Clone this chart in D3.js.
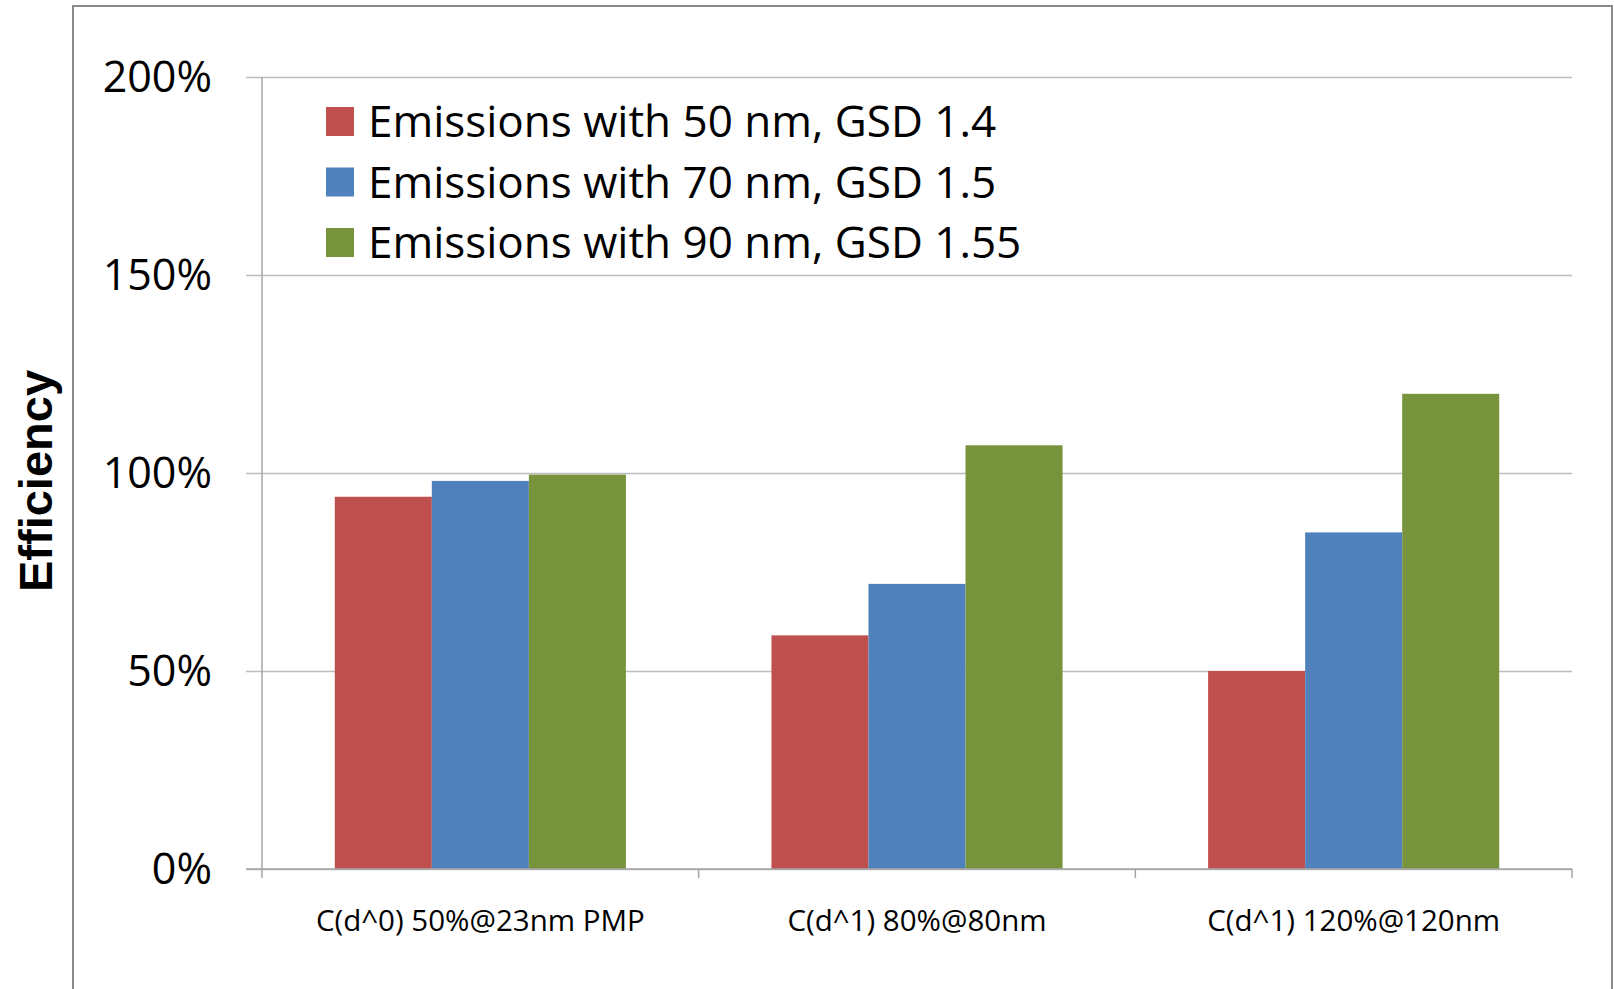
<!DOCTYPE html>
<html>
<head>
<meta charset="utf-8">
<script src="https://cdn.jsdelivr.net/npm/d3@7/dist/d3.min.js"></script>
<style>
  html, body { margin: 0; padding: 0; background: #ffffff; }
  svg { display: block; }
</style>
</head>
<body>
<svg id="chart" width="1614" height="989"></svg>
<script>
// ---- data ----
const categories = ["C(d^0) 50%@23nm PMP", "C(d^1) 80%@80nm", "C(d^1) 120%@120nm"];
const seriesNames = ["Emissions with 50 nm, GSD 1.4", "Emissions with 70 nm, GSD 1.5", "Emissions with 90 nm, GSD 1.55"];
const series50 = [94, 59, 50];
const series70 = [98, 72, 85];
const series90 = [99.6, 107, 120];
const yTicks = [0, 50, 100, 150, 200];
const yTickLabels = ["0%", "50%", "100%", "150%", "200%"];
const colors = ["#C0504D", "#4F81BD", "#77933C"];

const seriesValues = [series50, series70, series90];

// ---- layout ----
const svg = d3.select("#chart");
const W = 1614, H = 989;
const plot = { left: 262, right: 1572, top: 77, bottom: 869 };
const labelFont = "'Open Sans', 'Noto Sans', sans-serif";

// outer chart frame
svg.append("rect")
  .attr("x", 73).attr("y", 6)
  .attr("width", 1612 - 73).attr("height", H + 20)
  .attr("fill", "#ffffff")
  .attr("stroke", "#8c8c8c").attr("stroke-width", 2);

const x0 = d3.scaleBand().domain(categories).range([plot.left, plot.right]).paddingInner(0).paddingOuter(0);
const bw = x0.bandwidth();
const gap = bw / 3; // gap width 150% of bar width
const x1 = d3.scaleBand().domain(seriesNames).range([gap / 2, bw - gap / 2]).padding(0);
const y = d3.scaleLinear().domain([0, 200]).range([plot.bottom, plot.top]);

// gridlines + left ticks
const yAxis = d3.axisLeft(y).tickValues(yTicks).tickSize(16).tickFormat("");
const gy = svg.append("g").attr("transform", `translate(${plot.left},0)`).call(yAxis);
gy.select(".domain").remove();
gy.selectAll(".tick line").attr("stroke", "#bdbdbd").attr("stroke-width", 1.5)
  .attr("x1", -16).attr("x2", plot.right - plot.left);

// y tick labels
svg.append("g").selectAll("text").data(yTicks).join("text")
  .attr("x", 212)
  .attr("y", d => y(d) + 15)
  .attr("text-anchor", "end")
  .attr("font-family", labelFont)
  .attr("font-size", 43)
  .attr("fill", "#000")
  .text((d, i) => yTickLabels[i]);

// y axis line
svg.append("line")
  .attr("x1", plot.left).attr("x2", plot.left)
  .attr("y1", plot.top).attr("y2", plot.bottom)
  .attr("stroke", "#a6a6a6").attr("stroke-width", 1.5);

// bars
const groups = svg.append("g").selectAll("g").data(categories).join("g")
  .attr("transform", d => `translate(${x0(d)},0)`);
groups.selectAll("rect")
  .data((c, ci) => seriesNames.map((s, si) => ({ s, si, v: seriesValues[si][ci] })))
  .join("rect")
  .attr("x", d => x1(d.s))
  .attr("y", d => y(d.v))
  .attr("width", x1.bandwidth())
  .attr("height", d => y(0) - y(d.v))
  .attr("fill", d => colors[d.si]);

// x axis
const xAxis = d3.axisBottom(x0).tickSize(0).tickFormat("");
const gx = svg.append("g").attr("transform", `translate(0,${plot.bottom})`).call(xAxis);
gx.select(".domain").remove();
svg.append("line")
  .attr("x1", 246).attr("x2", plot.right)
  .attr("y1", plot.bottom).attr("y2", plot.bottom)
  .attr("stroke", "#a6a6a6").attr("stroke-width", 1.5);
// category boundary ticks
const boundaries = categories.map(c => x0(c)).concat([plot.right]);
svg.append("g").selectAll("line").data(boundaries).join("line")
  .attr("x1", d => d).attr("x2", d => d)
  .attr("y1", plot.bottom).attr("y2", plot.bottom + 9)
  .attr("stroke", "#a6a6a6").attr("stroke-width", 1.5);

// category labels
svg.append("g").selectAll("text").data(categories).join("text")
  .attr("x", d => x0(d) + bw / 2)
  .attr("y", 931)
  .attr("text-anchor", "middle")
  .attr("font-family", labelFont)
  .attr("font-size", 29.5)
  .attr("fill", "#000")
  .text(d => d);

// y axis title
svg.append("text")
  .attr("transform", "translate(52,481) rotate(-90)")
  .attr("text-anchor", "middle")
  .attr("font-family", "'Liberation Sans', Arial, sans-serif")
  .attr("font-weight", "bold")
  .attr("font-size", 47)
  .attr("fill", "#000")
  .text("Efficiency");

// legend
const legend = svg.append("g").selectAll("g").data(seriesNames).join("g")
  .attr("transform", (d, i) => `translate(326,${107 + i * 60.5})`);
legend.append("rect")
  .attr("width", 28).attr("height", 29)
  .attr("fill", (d, i) => colors[i]);
legend.append("text")
  .attr("x", 42).attr("y", 30)
  .attr("font-family", labelFont)
  .attr("font-size", 44)
  .attr("fill", "#000")
  .text(d => d);
</script>
</body>
</html>
